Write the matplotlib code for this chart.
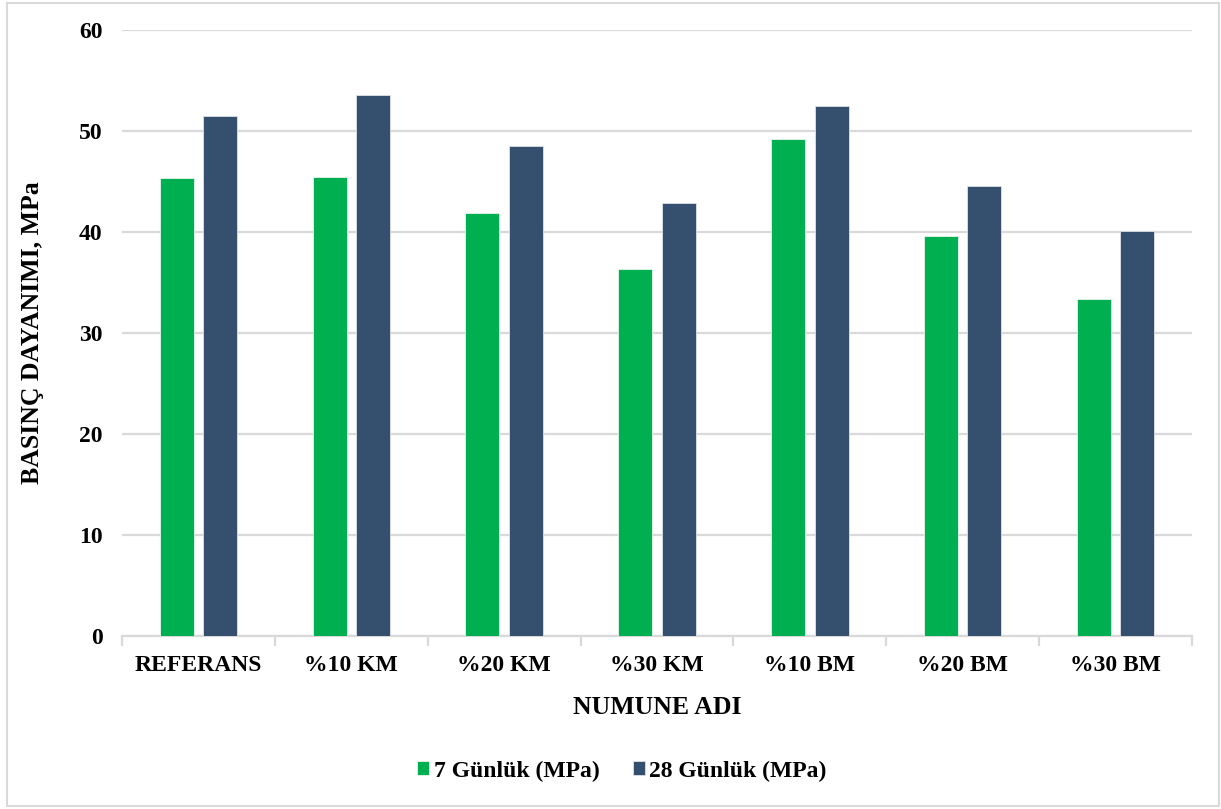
import matplotlib
matplotlib.use("Agg")
import matplotlib.pyplot as plt
from matplotlib.patches import Rectangle
import numpy as np

categories = ["REFERANS", "%10 KM", "%20 KM", "%30 KM", "%10 BM", "%20 BM", "%30 BM"]
gun7 = [45.3, 45.4, 41.9, 36.3, 49.2, 39.6, 33.4]
gun28 = [51.5, 53.6, 48.5, 42.9, 52.5, 44.6, 40.1]
series_labels = ["7 Günlük (MPa)", "28 Günlük (MPa)"]
yticks = [0, 10, 20, 30, 40, 50, 60]

green = "#00B050"
navy = "#35506E"
grid_c = "#D9D9D9"

plt.rcParams["font.family"] = ["Liberation Serif", "DejaVu Serif"]
plt.rcParams["font.weight"] = "bold"

W, H = 1221, 809
fig = plt.figure(figsize=(W / 100, H / 100), dpi=100)
ax = fig.add_axes([122 / W, 1 - 636 / H, (1192 - 122) / W, (636 - 30) / H])

x = np.arange(len(categories))
bw = 0.223
off = 0.142
ax.bar(x - off, gun7, bw, color=green, edgecolor="#E6F5EC", linewidth=0.6,
       label=series_labels[0], zorder=3)
ax.bar(x + off, gun28, bw, color=navy, edgecolor="#DDE2E8", linewidth=0.6,
       label=series_labels[1], zorder=3)

ax.set_xlim(-0.5, len(categories) - 0.5)
ax.set_ylim(0, 60)
ax.set_yticks(yticks)
ax.yaxis.grid(True, color=grid_c, linewidth=1.6, zorder=0)
ax.set_axisbelow(True)

for s in ["top", "right", "left"]:
    ax.spines[s].set_visible(False)
ax.spines["bottom"].set_color(grid_c)
ax.spines["bottom"].set_linewidth(1.6)

ax.set_xticks(x)
ax.set_xticklabels(categories, fontsize=17, fontweight="bold")
ax.tick_params(axis="x", length=0, pad=14)
ax.set_xticks(np.arange(len(categories) + 1) - 0.5, minor=True)
ax.tick_params(axis="x", which="minor", length=7, width=1.6, color=grid_c)
ax.tick_params(axis="y", length=0, pad=14, labelsize=17)
for t in ax.get_yticklabels():
    t.set_fontweight("bold")

ax.set_xlabel("NUMUNE ADI", fontsize=18.5, fontweight="bold", labelpad=14)
ax.set_ylabel("BASINÇ DAYANIMI, MPa", fontsize=18.5, fontweight="bold")
ax.yaxis.set_label_coords(-78 / (1192 - 122), 0.5)

fig.legend(loc="center", bbox_to_anchor=(622 / W, 1 - 771 / H), ncol=2,
           frameon=False, handlelength=0.5, handleheight=0.5,
           handletextpad=0.2, columnspacing=1.4,
           prop={"weight": "bold", "size": 17})

fig.patches.append(Rectangle((7 / W, 1 - 806 / H), (1219 - 7) / W, (806 - 3) / H,
                             transform=fig.transFigure, fill=False,
                             edgecolor=grid_c, linewidth=1.5))

fig.savefig("out.png", dpi=100)
